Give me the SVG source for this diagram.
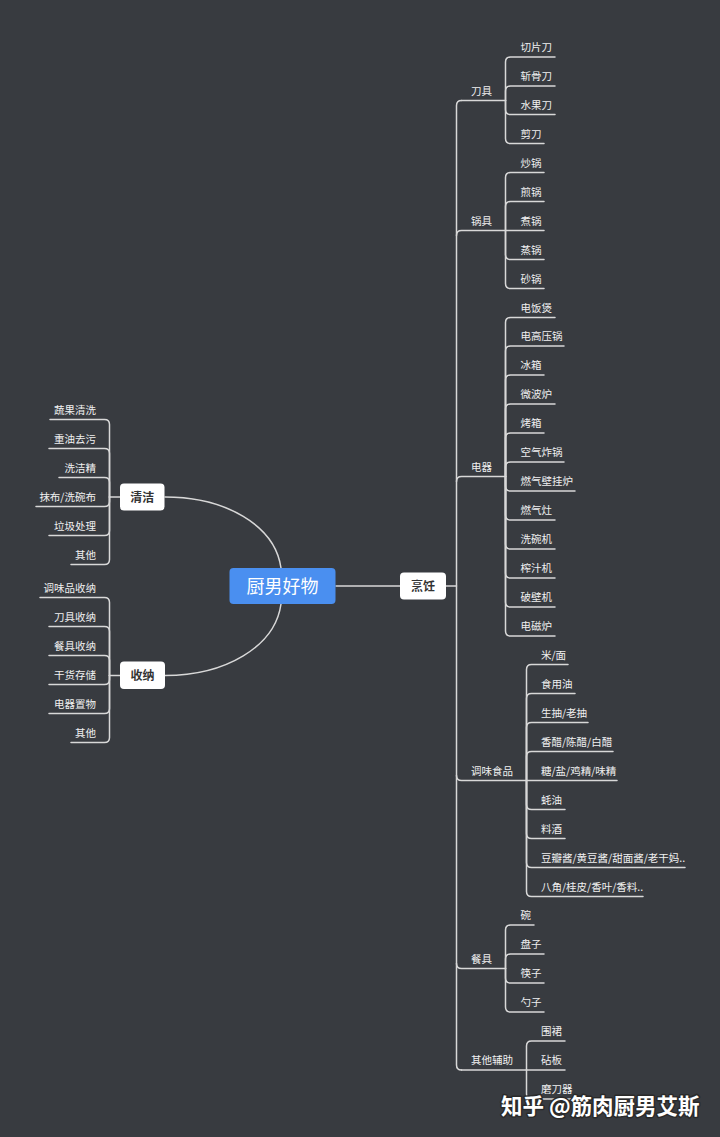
<svg xmlns="http://www.w3.org/2000/svg" width="720" height="1137" viewBox="0 0 720 1137">
<style>
.ln{fill:none;stroke:#d8d8d8;stroke-width:1.5;stroke-linecap:round}
.t{font-family:"Noto Sans CJK SC","Noto Sans",sans-serif;font-size:10.5px;fill:#f0f0f0}
.l{text-anchor:end}
.nb{fill:#ffffff}
.nt{font-family:"Noto Sans CJK SC","Noto Sans",sans-serif;font-size:12px;font-weight:bold;fill:#333333;text-anchor:middle}
.wm{font-family:"Noto Sans CJK SC","Noto Sans",sans-serif;font-size:21.5px;font-weight:bold}
</style>
<rect width="720" height="1137" fill="#383b40"/>
<g id="connectors">
<path class="ln" d="M336,586 H400"/>
<path class="ln" d="M446,586 H456.5"/>
<path class="ln" d="M165,497 C225,497 275,525 281,568"/>
<path class="ln" d="M281,604 C275,647 225,675.5 165,675.5"/>
<path class="ln" d="M120,497 H109.5"/>
<path class="ln" d="M120,675.5 H109.5"/>
<!-- trunk -->
<path class="ln" d="M461.5,100.5 Q456.5,100.5 456.5,105.5 V1065 Q456.5,1070 461.5,1070"/>
<path class="ln" d="M461.5,100.5 H505.5"/>
<path class="ln" d="M456.5,235.5 Q456.5,230.5 461.5,230.5 H505.5"/>
<path class="ln" d="M456.5,481.5 Q456.5,476.5 461.5,476.5 H505.5"/>
<path class="ln" d="M456.5,775.5 Q456.5,780.5 461.5,780.5 H526.5"/>
<path class="ln" d="M456.5,963.5 Q456.5,968.5 461.5,968.5 H505.5"/>
<path class="ln" d="M461.5,1070 H526.5"/>
<!-- 刀具 children -->
<path class="ln" d="M505.5,100.5 V62 Q505.5,57 510.5,57 H555"/>
<path class="ln" d="M505.5,100.5 V91 Q505.5,86 510.5,86 H555"/>
<path class="ln" d="M505.5,100.5 V109.5 Q505.5,114.5 510.5,114.5 H555"/>
<path class="ln" d="M505.5,100.5 V138.5 Q505.5,143.5 510.5,143.5 H544"/>
<!-- 锅具 children -->
<path class="ln" d="M505.5,230.5 V177.5 Q505.5,172.5 510.5,172.5 H544"/>
<path class="ln" d="M505.5,230.5 V206.5 Q505.5,201.5 510.5,201.5 H544"/>
<path class="ln" d="M505.5,230.5 H544"/>
<path class="ln" d="M505.5,230.5 V254.5 Q505.5,259.5 510.5,259.5 H544"/>
<path class="ln" d="M505.5,230.5 V283.5 Q505.5,288.5 510.5,288.5 H544"/>
<!-- 电器 children -->
<path class="ln" d="M505.5,476.5 V322.5 Q505.5,317.5 510.5,317.5 H555"/>
<path class="ln" d="M505.5,476.5 V351 Q505.5,346 510.5,346 H564"/>
<path class="ln" d="M505.5,476.5 V380 Q505.5,375 510.5,375 H544"/>
<path class="ln" d="M505.5,476.5 V409 Q505.5,404 510.5,404 H555"/>
<path class="ln" d="M505.5,476.5 V438 Q505.5,433 510.5,433 H544"/>
<path class="ln" d="M505.5,476.5 V467 Q505.5,462 510.5,462 H564"/>
<path class="ln" d="M505.5,476.5 V486 Q505.5,491 510.5,491 H575"/>
<path class="ln" d="M505.5,476.5 V515 Q505.5,520 510.5,520 H555"/>
<path class="ln" d="M505.5,476.5 V544 Q505.5,549 510.5,549 H555"/>
<path class="ln" d="M505.5,476.5 V573 Q505.5,578 510.5,578 H555"/>
<path class="ln" d="M505.5,476.5 V602 Q505.5,607 510.5,607 H555"/>
<path class="ln" d="M505.5,476.5 V631 Q505.5,636 510.5,636 H555"/>
<!-- 调味食品 children -->
<path class="ln" d="M526.5,780.5 V669.5 Q526.5,664.5 531.5,664.5 H568"/>
<path class="ln" d="M526.5,780.5 V698.5 Q526.5,693.5 531.5,693.5 H575"/>
<path class="ln" d="M526.5,780.5 V727.5 Q526.5,722.5 531.5,722.5 H588"/>
<path class="ln" d="M526.5,780.5 V756.5 Q526.5,751.5 531.5,751.5 H613"/>
<path class="ln" d="M526.5,780.5 H617"/>
<path class="ln" d="M526.5,780.5 V804.5 Q526.5,809.5 531.5,809.5 H565"/>
<path class="ln" d="M526.5,780.5 V833.5 Q526.5,838.5 531.5,838.5 H565"/>
<path class="ln" d="M526.5,780.5 V862.5 Q526.5,867.5 531.5,867.5 H685"/>
<path class="ln" d="M526.5,780.5 V891.5 Q526.5,896.5 531.5,896.5 H643"/>
<!-- 餐具 children -->
<path class="ln" d="M505.5,968.5 V930 Q505.5,925 510.5,925 H534"/>
<path class="ln" d="M505.5,968.5 V959 Q505.5,954 510.5,954 H544"/>
<path class="ln" d="M505.5,968.5 V978 Q505.5,983 510.5,983 H544"/>
<path class="ln" d="M505.5,968.5 V1007 Q505.5,1012 510.5,1012 H544"/>
<!-- 其他辅助 children -->
<path class="ln" d="M526.5,1070 V1046 Q526.5,1041 531.5,1041 H565"/>
<path class="ln" d="M526.5,1070 H565"/>
<path class="ln" d="M526.5,1070 V1094 Q526.5,1099 531.5,1099 H575"/>
<!-- 清洁 children -->
<path class="ln" d="M109.5,497 V424.5 Q109.5,419.5 104.5,419.5 H50"/>
<path class="ln" d="M109.5,497 V453.5 Q109.5,448.5 104.5,448.5 H49"/>
<path class="ln" d="M109.5,497 V482.5 Q109.5,477.5 104.5,477.5 H59"/>
<path class="ln" d="M109.5,497 V501.5 Q109.5,506.5 104.5,506.5 H36"/>
<path class="ln" d="M109.5,497 V530.5 Q109.5,535.5 104.5,535.5 H49"/>
<path class="ln" d="M109.5,497 V559.5 Q109.5,564.5 104.5,564.5 H71"/>
<!-- 收纳 children -->
<path class="ln" d="M109.5,675.5 V602.5 Q109.5,597.5 104.5,597.5 H40"/>
<path class="ln" d="M109.5,675.5 V631.5 Q109.5,626.5 104.5,626.5 H49"/>
<path class="ln" d="M109.5,675.5 V660.5 Q109.5,655.5 104.5,655.5 H49"/>
<path class="ln" d="M109.5,675.5 V679.5 Q109.5,684.5 104.5,684.5 H49"/>
<path class="ln" d="M109.5,675.5 V708.5 Q109.5,713.5 104.5,713.5 H49"/>
<path class="ln" d="M109.5,675.5 V737.5 Q109.5,742.5 104.5,742.5 H71"/>
</g>
<g id="root">
<rect x="229.5" y="568" width="106" height="36" rx="4" fill="#4a8ff0"/>
<text x="282.5" y="592.5" font-family="Noto Sans CJK SC, Noto Sans, sans-serif" font-size="18" fill="#ffffff" text-anchor="middle">厨男好物</text>
</g>
<g id="pengren"><rect class="nb" x="400" y="572.5" width="46" height="27" rx="4"/><text class="nt" x="423" y="590.5">烹饪</text></g>
<g id="qingjie"><rect class="nb" x="120" y="483.5" width="44.5" height="27" rx="4"/><text class="nt" x="142.3" y="501.5">清洁</text></g>
<g id="shouna"><rect class="nb" x="120" y="661.5" width="45" height="27.5" rx="4"/><text class="nt" x="142.5" y="680">收纳</text></g>
<g id="level2">
<text class="t" x="471" y="94.5">刀具</text>
<text class="t" x="471" y="224.5">锅具</text>
<text class="t" x="471" y="470.5">电器</text>
<text class="t" x="471" y="774.5">调味食品</text>
<text class="t" x="471" y="962.5">餐具</text>
<text class="t" x="471" y="1064">其他辅助</text>
</g>
<g id="daoju">
<text class="t" x="520.5" y="51">切片刀</text>
<text class="t" x="520.5" y="80">斩骨刀</text>
<text class="t" x="520.5" y="108.5">水果刀</text>
<text class="t" x="520.5" y="137.5">剪刀</text>
</g>
<g id="guoju">
<text class="t" x="520.5" y="166.5">炒锅</text>
<text class="t" x="520.5" y="195.5">煎锅</text>
<text class="t" x="520.5" y="224.5">煮锅</text>
<text class="t" x="520.5" y="253.5">蒸锅</text>
<text class="t" x="520.5" y="282.5">砂锅</text>
</g>
<g id="dianqi">
<text class="t" x="520.5" y="311.5">电饭煲</text>
<text class="t" x="520.5" y="340">电高压锅</text>
<text class="t" x="520.5" y="369">冰箱</text>
<text class="t" x="520.5" y="398">微波炉</text>
<text class="t" x="520.5" y="427">烤箱</text>
<text class="t" x="520.5" y="456">空气炸锅</text>
<text class="t" x="520.5" y="485">燃气壁挂炉</text>
<text class="t" x="520.5" y="514">燃气灶</text>
<text class="t" x="520.5" y="543">洗碗机</text>
<text class="t" x="520.5" y="572">榨汁机</text>
<text class="t" x="520.5" y="601">破壁机</text>
<text class="t" x="520.5" y="630">电磁炉</text>
</g>
<g id="tiaowei">
<text class="t" x="541" y="658.5">米/面</text>
<text class="t" x="541" y="687.5">食用油</text>
<text class="t" x="541" y="716.5">生抽/老抽</text>
<text class="t" x="541" y="745.5">香醋/陈醋/白醋</text>
<text class="t" x="541" y="774.5">糖/盐/鸡精/味精</text>
<text class="t" x="541" y="803.5">蚝油</text>
<text class="t" x="541" y="832.5">料酒</text>
<text class="t" x="541" y="861.5">豆瓣酱/黄豆酱/甜面酱/老干妈..</text>
<text class="t" x="541" y="890.5">八角/桂皮/香叶/香料..</text>
</g>
<g id="canju">
<text class="t" x="520.5" y="919">碗</text>
<text class="t" x="520.5" y="948">盘子</text>
<text class="t" x="520.5" y="977">筷子</text>
<text class="t" x="520.5" y="1006">勺子</text>
</g>
<g id="qita">
<text class="t" x="541" y="1035">围裙</text>
<text class="t" x="541" y="1064">砧板</text>
<text class="t" x="541" y="1093">磨刀器</text>
</g>
<g id="qingjie-children">
<text class="t l" x="96" y="413.5">蔬果清洗</text>
<text class="t l" x="96" y="442.5">重油去污</text>
<text class="t l" x="96" y="471.5">洗洁精</text>
<text class="t l" x="96" y="500.5">抹布/洗碗布</text>
<text class="t l" x="96" y="529.5">垃圾处理</text>
<text class="t l" x="96" y="558.5">其他</text>
</g>
<g id="shouna-children">
<text class="t l" x="96" y="591.5">调味品收纳</text>
<text class="t l" x="96" y="620.5">刀具收纳</text>
<text class="t l" x="96" y="649.5">餐具收纳</text>
<text class="t l" x="96" y="678.5">干货存储</text>
<text class="t l" x="96" y="707.5">电器置物</text>
<text class="t l" x="96" y="736.5">其他</text>
</g>
<g id="watermark">
<text class="wm" x="501" y="1114" fill="none" stroke="#2a2a2a" stroke-width="3" stroke-linejoin="round">知乎 @筋肉厨男艾斯</text>
<text class="wm" x="501" y="1114" fill="#ffffff">知乎 @筋肉厨男艾斯</text>
</g>
</svg>
